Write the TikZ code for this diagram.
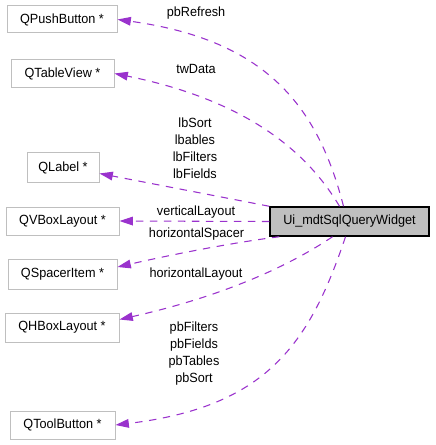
\documentclass[tikz,border=0pt]{standalone}
\usepackage{fontspec}
\setmainfont{Liberation Sans}[FakeStretch=0.95]
\usetikzlibrary{arrows.meta,calc}
\definecolor{edgepurple}{HTML}{9A32CD}
\definecolor{boxgray}{HTML}{BFBFBF}
\begin{document}
\begin{tikzpicture}[x=0.75pt,y=-0.75pt,
  font=\fontsize{10}{12.75}\selectfont,
  cls/.style={draw=boxgray, line width=0.75pt, inner sep=0pt, fill=white},
  mainbox/.style={draw=black, fill=boxgray, line width=1.1pt, inner sep=0pt},
  dep/.style={draw=edgepurple, line width=0.8pt, dash pattern=on 5.5pt off 5pt,
    -{Triangle[length=10pt,width=6.5pt,fill=edgepurple]}},
  lbl/.style={inner sep=0pt, align=center}]
\useasboundingbox (0,0) rectangle (435,445);
\fill[white] (0,0) rectangle (435,445);

% nodes
\node[cls, minimum width=82.5pt, minimum height=20.25pt] (pb) at (62,19.5) {QPushButton *};
\node[cls, minimum width=77.25pt, minimum height=21pt] (tv) at (62.5,73.5) {QTableView *};
\node[cls, minimum width=54pt, minimum height=21.75pt] (lab) at (63,167.5) {QLabel *};
\node[cls, minimum width=84.75pt, minimum height=21pt] (vbox) at (62.5,221) {QVBoxLayout *};
\node[cls, minimum width=81.75pt, minimum height=22.5pt] (spacer) at (62.5,274) {QSpacerItem *};
\node[cls, minimum width=85.5pt, minimum height=21.75pt] (hbox) at (62,327.5) {QHBoxLayout *};
\node[cls, minimum width=78.75pt, minimum height=21pt] (tool) at (62.5,425) {QToolButton *};
\node[mainbox, minimum width=119.25pt, minimum height=21.75pt] (ui) at (349.5,221.5) {Ui\_mdtSqlQueryWidget};

% connectors
\draw[dep] ($(ui.north)+(-6,0)$) .. controls (318,107) and (267,40) .. (pb.east);
\draw[dep] ($(ui.north)+(-10,0)$) .. controls (316,167) and (265,104) .. (tv.east);
\draw[dep] (ui.north west) -- ($(lab.east)+(0,6)$);
\draw[dep] (ui.west) -- (vbox.east);
\draw[dep] ($(ui.south west)+(10,0)$) .. controls (230,243) and (170,255) .. ($(spacer.east)+(0,-7)$);
\draw[dep] ($(ui.south)+(-17,0)$) .. controls (292,264) and (228,295) .. ($(hbox.east)+(0,-8)$);
\draw[dep] ($(ui.south)+(-4,0)$) .. controls (309,346) and (265,407) .. (tool.east);

% labels
\node[lbl] (lpb) at (196,13) {pbRefresh};
\node[lbl] (ltw) at (196,69) {twData};
\node[lbl] (llab) at (195,148.5) {lbSort\\lbables\\lbFilters\\lbFields};
\node[lbl] (lvl) at (196,212) {verticalLayout};
\node[lbl] (lhs) at (196.5,234.5) {horizontalSpacer};
\node[lbl] (lhl) at (196,274) {horizontalLayout};
\node[lbl] (ltool) at (194,353.5) {pbFilters\\pbFields\\pbTables\\pbSort};
\end{tikzpicture}
\end{document}
